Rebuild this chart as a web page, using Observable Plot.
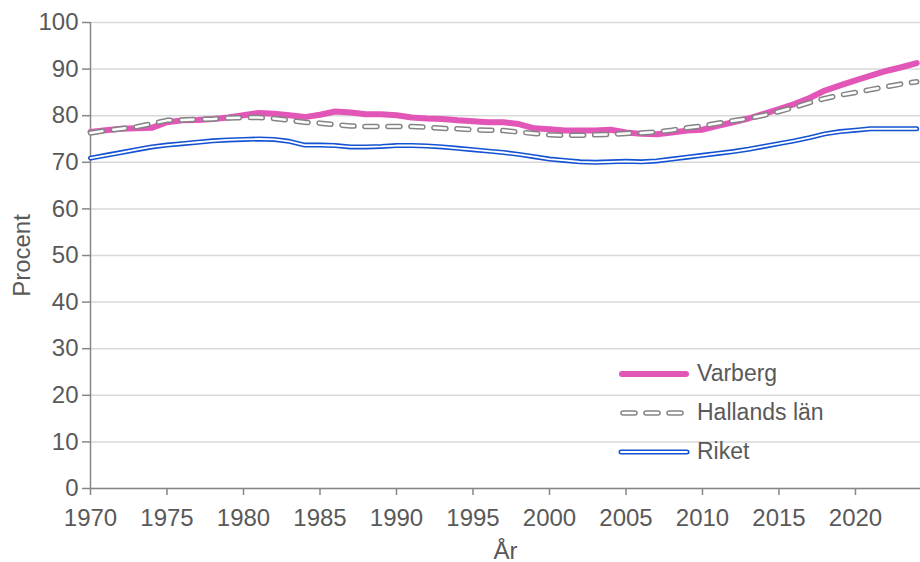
<!DOCTYPE html>
<html><head><meta charset="utf-8">
<script src="https://cdn.jsdelivr.net/npm/d3@7"></script>
<script src="https://cdn.jsdelivr.net/npm/@observablehq/plot@0.6"></script>
<style>
body{margin:0;background:#fff;}
#wrap{position:relative;width:920px;height:562px;font-family:"Liberation Sans",Arial,sans-serif;overflow:hidden;}
#legend{position:absolute;left:618px;top:354px;}
.item{display:flex;align-items:center;height:39px;font-size:23px;color:#595959;}
.item svg{margin-right:7px;}
</style></head><body><div id="wrap"><div id="chart"></div><div id="legend"></div></div>
<script>
const years = [1970,1971,1972,1973,1974,1975,1976,1977,1978,1979,1980,1981,1982,1983,1984,1985,1986,1987,1988,1989,1990,1991,1992,1993,1994,1995,1996,1997,1998,1999,2000,2001,2002,2003,2004,2005,2006,2007,2008,2009,2010,2011,2012,2013,2014,2015,2016,2017,2018,2019,2020,2021,2022,2023,2024];
const varberg = [76.5,76.9,77.2,77.3,77.4,78.6,79.0,79.1,79.3,79.6,80.1,80.6,80.4,80.1,79.7,80.2,80.9,80.7,80.3,80.3,80.1,79.6,79.4,79.3,79.0,78.8,78.6,78.6,78.2,77.3,77.1,76.8,76.8,76.8,77.0,76.4,76.1,76.0,76.4,76.8,77.0,77.8,78.6,79.4,80.4,81.4,82.5,83.8,85.4,86.5,87.6,88.6,89.6,90.4,91.3];
const hallands = [76.3,76.8,77.2,77.6,78.3,79.0,79.1,79.2,79.3,79.5,79.6,79.6,79.4,79.0,78.6,78.4,78.1,77.8,77.7,77.7,77.7,77.7,77.5,77.3,77.2,77.0,76.9,76.8,76.5,76.2,75.9,75.8,75.8,75.9,76.0,76.2,76.3,76.5,76.9,77.4,77.8,78.4,78.9,79.4,80.1,80.9,81.8,82.8,83.7,84.4,85.0,85.6,86.2,86.8,87.3];
const riket = [70.9,71.5,72.1,72.7,73.3,73.7,74.0,74.3,74.6,74.8,74.9,75.0,74.9,74.5,73.7,73.7,73.6,73.3,73.3,73.4,73.6,73.6,73.5,73.3,73.0,72.7,72.4,72.1,71.7,71.2,70.7,70.4,70.1,70.0,70.1,70.2,70.1,70.3,70.7,71.1,71.5,71.9,72.3,72.8,73.4,74.0,74.6,75.3,76.1,76.6,76.9,77.2,77.2,77.2,77.2];
const seriesNames = ["Varberg","Hallands län","Riket"];
const xTicks = [1970,1975,1980,1985,1990,1995,2000,2005,2010,2015,2020];
const yTicks = [0,10,20,30,40,50,60,70,80,90,100];
const xLabel = "År";
const yLabel = "Procent";

const rows = vals => vals.map((v,i)=>({year: years[i], value: v}));
const dV = rows(varberg), dH = rows(hallands), dR = rows(riket);

const PINK = "#e156b6", GRAY = "#848484", BLUE = "#1352d2", AXIS = "#878787", TEXT = "#595959";
const font = '"Liberation Sans", Arial, sans-serif';

const chart = Plot.plot({
  width: 920, height: 562,
  marginLeft: 90, marginRight: 0, marginTop: 22, marginBottom: 74,
  style: {fontFamily: font, fontSize: "24px", color: TEXT, background: "white"},
  x: {domain: [1970, 2024.25]},
  y: {domain: [0, 100]},
  marks: [
    Plot.gridY(yTicks, {stroke: "#d9d9d9", strokeOpacity: 1, strokeWidth: 1.5}),
    Plot.axisY(yTicks, {anchor: "left", tickSize: 8, tickPadding: 4, stroke: AXIS, strokeWidth: 1.5, fill: TEXT,
      label: yLabel, labelAnchor: "center", labelArrow: "none", labelOffset: 78, fontSize: 24}),
    Plot.axisX(xTicks, {anchor: "bottom", tickSize: 7, tickPadding: 13, stroke: AXIS, strokeWidth: 1.5, fill: TEXT,
      tickFormat: d => String(d), label: xLabel, labelAnchor: "center", labelArrow: "none", labelOffset: 70, fontSize: 24}),
    Plot.ruleX([1970], {stroke: AXIS, strokeWidth: 1.5}),
    Plot.ruleY([0], {stroke: AXIS, strokeWidth: 1.5}),
    Plot.line(dR, {x: "year", y: "value", stroke: BLUE, strokeWidth: 5, strokeLinejoin: "round", strokeLinecap: "round"}),
    Plot.line(dR, {x: "year", y: "value", stroke: "white", strokeWidth: 1.8, strokeLinejoin: "round", strokeLinecap: "round"}),
    Plot.line(dV, {x: "year", y: "value", stroke: PINK, strokeWidth: 6, strokeLinejoin: "round"}),
    Plot.line(dH, {x: "year", y: "value", stroke: GRAY, strokeWidth: 5.5, strokeDasharray: "12,11", strokeLinecap: "round", strokeLinejoin: "round"}),
    Plot.line(dH, {x: "year", y: "value", stroke: "white", strokeWidth: 2.5, strokeDasharray: "12,11", strokeLinecap: "round", strokeLinejoin: "round"})
  ]
});
document.getElementById("chart").appendChild(chart);

// legend
const legend = document.getElementById("legend");
const swatches = {
  "Varberg": `<line x1="4" y1="8" x2="68" y2="8" stroke="${PINK}" stroke-width="6" stroke-linecap="round"/>`,
  "Hallands län": `<line x1="5" y1="8" x2="68" y2="8" stroke="${GRAY}" stroke-width="5.5" stroke-dasharray="12,11" stroke-linecap="round"/><line x1="5" y1="8" x2="68" y2="8" stroke="white" stroke-width="2.5" stroke-dasharray="12,11" stroke-linecap="round"/>`,
  "Riket": `<line x1="3" y1="8" x2="69" y2="8" stroke="${BLUE}" stroke-width="5" stroke-linecap="round"/><line x1="3" y1="8" x2="69" y2="8" stroke="white" stroke-width="1.8" stroke-linecap="round"/>`
};
seriesNames.forEach(name => {
  const div = document.createElement("div");
  div.className = "item";
  div.innerHTML = `<svg width="72" height="16">${swatches[name]}</svg><span>${name}</span>`;
  legend.appendChild(div);
});
</script>
</body></html>
